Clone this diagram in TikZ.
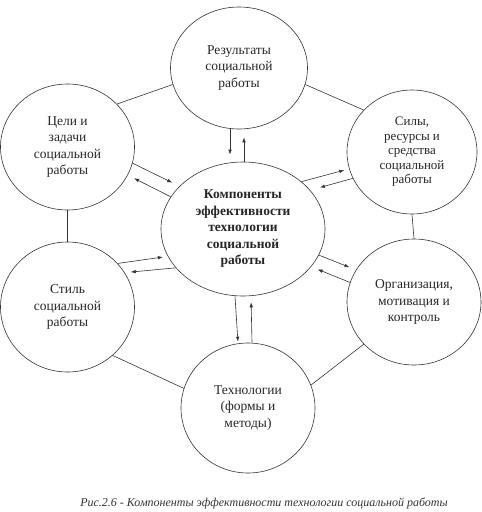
\documentclass[tikz,border=0pt]{standalone}
\usepackage{fontspec}
\setmainfont{Liberation Serif}
\usetikzlibrary{shapes.geometric,arrows.meta}
\tikzset{
  circ/.style={draw=black!80, ellipse, line width=0.6pt, inner sep=0pt, align=center,
    text=black!85, font=\fontsize{13.5}{16.5}\selectfont},
  link/.style={draw=black!80, line width=0.6pt},
  arr/.style={link, -{Latex[length=5pt,width=3.5pt]}},
}
\begin{document}
\begin{tikzpicture}[x=1pt,y=-1pt]
\useasboundingbox[fill=white] (0,0) rectangle (482,512);
\node[circ, minimum width=137pt, minimum height=122pt] (top) at (239,68) {Результаты\\социальной\\работы};
\node[circ, minimum width=134pt, minimum height=126pt] (tl) at (67.5,147) {Цели и\\задачи\\социальной\\работы};
\node[circ, minimum width=130pt, minimum height=124pt, font=\fontsize{13}{14.5}\selectfont] (tr) at (412,152) {Силы,\\ресурсы и\\средства\\социальной\\работы};
\node[circ, minimum width=164pt, minimum height=134pt, font=\bfseries\fontsize{13.5}{16.5}\selectfont] (c) at (243,229) {Компоненты\\эффективности\\технологии\\социальной\\работы};
\node[circ, minimum width=134pt, minimum height=130pt] (l) at (67.5,307) {Стиль\\социальной\\работы};
\node[circ, minimum width=134pt, minimum height=126pt] (r) at (414,302) {Организация,\\мотивация и\\контроль};
\node[circ, minimum width=134pt, minimum height=130pt] (b) at (248,408) {Технологии\\(формы и\\методы)};
\node[font=\itshape\fontsize{12}{14}\selectfont, text=black!80] (cap) at (264,503) {Рис.2.6 - Компоненты эффективности технологии социальной работы};

\draw[link] (top.194) -- (tl.41);
\draw[link] (top.346) -- (tr.139);
\draw[link] (tl.south) -- (l.north);
\draw[link] (tr.south) -- (r.north);
\draw[link] (l.313) -- (b.163);
\draw[link] (r.220) -- (b.20);

\draw[arr, shorten >=7pt] ([xshift=-9pt]top.south) -- ([xshift=-13pt]c.north);
\draw[arr, shorten >=8pt] ([xshift=1pt]c.north) -- ([xshift=5pt]top.south);
\draw[arr, shorten >=8pt] (tl.346) -- (c.146.5);
\draw[arr, shorten >=7pt] (c.156) -- (tl.335);
\draw[arr, shorten >=5pt] (c.39) -- (tr.195);
\draw[arr, shorten >=10pt] (tr.204) -- (c.30);
\draw[arr, shorten >=5pt] (l.41) -- (c.200);
\draw[arr, shorten >=6pt] (c.210) -- (l.31);
\draw[arr, shorten >=7pt] (c.341) -- (r.151);
\draw[arr, shorten >=7pt] (r.163) -- (c.331);
\draw[arr, shorten >=1pt] ([xshift=-8pt]c.south) -- ([xshift=-10pt]b.north);
\draw[arr, shorten >=6pt] ([xshift=4pt]b.north) -- ([xshift=8pt]c.south);
\end{tikzpicture}
\end{document}
